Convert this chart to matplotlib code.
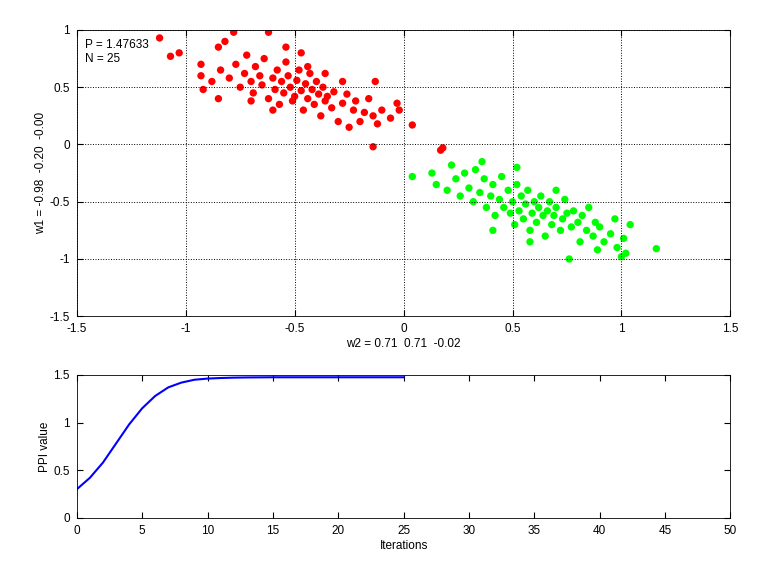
import matplotlib
matplotlib.use("Agg")
import matplotlib.pyplot as plt
import numpy as np

plt.rcParams['font.family'] = ['Liberation Sans', 'DejaVu Sans']

red_x = [-1.12,-1.07,-1.03,-0.93,-0.93,-0.92,-0.88,-0.85,-0.84,-0.82,-0.80,-0.78,-0.77,-0.75,-0.73,-0.72,-0.70,-0.69,-0.68,-0.66,-0.65,-0.64,-0.62,-0.62,-0.60,-0.59,-0.58,-0.57,-0.56,-0.55,-0.54,-0.53,-0.52,-0.51,-0.50,-0.49,-0.48,-0.47,-0.46,-0.45,-0.44,-0.43,-0.42,-0.41,-0.40,-0.39,-0.38,-0.37,-0.36,-0.35,-0.33,-0.32,-0.30,-0.28,-0.26,-0.25,-0.23,-0.22,-0.20,-0.18,-0.16,-0.14,-0.13,-0.12,-0.14,-0.10,-0.06,-0.03,-0.02,0.04,-0.28,-0.54,-0.47,-0.60,-0.70,-0.85,0.18,0.17,-0.44,-0.36]
red_y = [0.93,0.77,0.80,0.70,0.60,0.48,0.55,0.85,0.65,0.90,0.58,0.98,0.70,0.50,0.62,0.78,0.55,0.45,0.68,0.60,0.52,0.75,0.98,0.40,0.58,0.48,0.65,0.35,0.55,0.45,0.72,0.60,0.50,0.38,0.42,0.56,0.65,0.47,0.30,0.53,0.40,0.62,0.48,0.35,0.55,0.44,0.25,0.50,0.38,0.42,0.32,0.46,0.20,0.36,0.44,0.15,0.30,0.38,0.20,0.28,0.40,0.25,0.55,0.18,-0.02,0.30,0.23,0.36,0.30,0.17,0.55,0.85,0.80,0.30,0.38,0.40,-0.03,-0.05,0.68,0.62]
green_x = [0.04,0.13,0.15,0.20,0.22,0.24,0.26,0.28,0.30,0.32,0.33,0.35,0.37,0.38,0.40,0.41,0.42,0.44,0.45,0.46,0.48,0.49,0.50,0.51,0.52,0.53,0.54,0.55,0.56,0.57,0.58,0.59,0.60,0.61,0.62,0.63,0.64,0.65,0.66,0.67,0.68,0.69,0.70,0.72,0.73,0.74,0.75,0.76,0.77,0.78,0.80,0.81,0.82,0.84,0.85,0.87,0.88,0.89,0.90,0.92,0.95,0.97,0.98,1.00,1.01,1.02,1.04,1.16,0.41,0.58,0.36,0.52,0.70]
green_y = [-0.28,-0.25,-0.35,-0.40,-0.18,-0.30,-0.45,-0.25,-0.38,-0.50,-0.22,-0.42,-0.30,-0.55,-0.45,-0.35,-0.62,-0.48,-0.28,-0.55,-0.40,-0.60,-0.50,-0.70,-0.35,-0.58,-0.45,-0.65,-0.52,-0.40,-0.75,-0.60,-0.50,-0.68,-0.55,-0.45,-0.62,-0.80,-0.58,-0.50,-0.70,-0.62,-0.55,-0.75,-0.65,-0.48,-0.60,-1.00,-0.72,-0.58,-0.68,-0.85,-0.62,-0.75,-0.55,-0.80,-0.68,-0.92,-0.72,-0.85,-0.78,-0.65,-0.90,-0.98,-0.82,-0.95,-0.70,-0.91,-0.75,-0.85,-0.15,-0.20,-0.40]

iters = list(range(26))
ppi = [0.30,0.42,0.58,0.78,0.98,1.15,1.28,1.37,1.42,1.45,1.462,1.468,1.472,1.474,1.475,1.476,1.476,1.476,1.476,1.476,1.476,1.476,1.476,1.476,1.476,1.476]

fig = plt.figure(figsize=(7.68,5.76), dpi=100)
ax1 = fig.add_axes([0.100,0.451,0.851,0.497])
ax2 = fig.add_axes([0.100,0.101,0.851,0.248])

for ax in (ax1, ax2):
    ax.tick_params(direction='in', labelsize=8.5, top=True, right=True, length=4, pad=5)
    for s in ax.spines.values():
        s.set_linewidth(0.6)

ax1.scatter(red_x, red_y, s=28, c='#ff0000', edgecolors='none')
ax1.scatter(green_x, green_y, s=28, c='#00ff00', edgecolors='none')
ax1.set_xlim(-1.5,1.5); ax1.set_ylim(-1.5,1)
ax1.set_xticks(np.arange(-1.5,1.6,0.5)); ax1.set_yticks(np.arange(-1.5,1.1,0.5))
ax1.set_xticklabels(['-1.5','-1','-0.5','0','0.5','1','1.5'])
ax1.set_yticklabels(['-1.5','-1','-0.5','0','0.5','1'])
ax1.grid(True, linestyle=':', color='black', linewidth=0.7)
ax1.set_xlabel('w2 = 0.71  0.71  -0.02', fontsize=8.5, labelpad=2)
ax1.set_ylabel('w1 = -0.98  -0.20  -0.00', fontsize=8.5, labelpad=2)
ax1.text(0.013,0.97,'P = 1.47633\nN = 25', transform=ax1.transAxes, va='top', fontsize=8.5, linespacing=1.3)

ax2.plot(iters, ppi, color='#0000ff', linewidth=1.5)
ax2.set_xlim(0,50); ax2.set_ylim(0,1.5)
ax2.set_xticks(range(0,51,5)); ax2.set_yticks([0,0.5,1,1.5])
ax2.set_yticklabels(['0','0.5','1','1.5'])
ax2.set_xlabel('Iterations', fontsize=8.5, labelpad=2)
ax2.set_ylabel('PPI value', fontsize=8.5, labelpad=2)

fig.savefig('out.png', dpi=100)
